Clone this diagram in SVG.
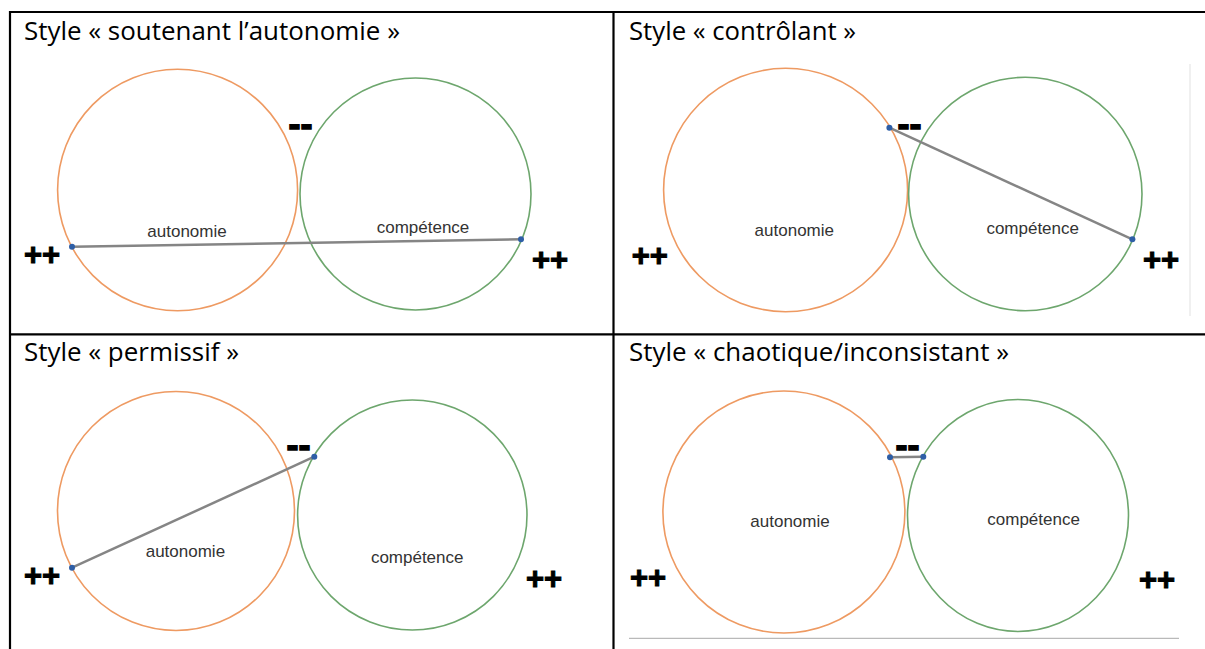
<svg xmlns="http://www.w3.org/2000/svg" width="1205" height="649" viewBox="0 0 1205 649">
  <style>
    .grid { stroke: #000; stroke-width: 2.2; fill: none; }
    .title { font-family: "Open Sans", "Liberation Sans", sans-serif; font-size: 25px; fill: #000; }
    .auto { fill: none; stroke: #EE9A62; stroke-width: 1.6; }
    .comp { fill: none; stroke: #6DA66D; stroke-width: 1.6; }
    .lbl { font-family: "Liberation Sans", Arial, sans-serif; font-size: 17px; fill: #333; text-anchor: middle; }
    .pp { font-family: "Liberation Sans", Arial, sans-serif; font-weight: bold; font-size: 31px; fill: #000; stroke: #000; stroke-width: 1; }
    .mm { font-family: "Liberation Sans", Arial, sans-serif; font-weight: bold; font-size: 36px; fill: #000; stroke: #000; stroke-width: 1.4; }
    .conn { stroke: #858585; stroke-width: 2.5; fill: none; }
    .dot { fill: #2E5EA6; }
    .faint { stroke: #e6e6e6; stroke-width: 1.2; fill: none; }
    .faint2 { stroke: #a8a8a8; stroke-width: 1; fill: none; }
  </style>

  <rect width="1205" height="649" fill="#fff"/>

  <g id="table">
    <line class="grid" x1="9" y1="12" x2="1205" y2="12"/>
    <line class="grid" x1="10" y1="11" x2="10" y2="649"/>
    <line class="grid" x1="613.5" y1="11" x2="613.5" y2="649"/>
    <line class="grid" x1="9" y1="334.3" x2="1205" y2="334.3"/>
    <line class="faint" x1="1190" y1="64" x2="1190" y2="316"/>
    <line class="faint2" x1="629" y1="638.3" x2="1179" y2="638.3"/>
  </g>

  <g id="titles">
    <text class="title" x="24" y="39.5" textLength="376" lengthAdjust="spacingAndGlyphs">Style « soutenant l’autonomie »</text>
    <text class="title" x="629" y="39.5" textLength="227" lengthAdjust="spacingAndGlyphs">Style « contrôlant »</text>
    <text class="title" x="24" y="360.5" textLength="215" lengthAdjust="spacingAndGlyphs">Style « permissif »</text>
    <text class="title" x="629" y="360.5" textLength="380" lengthAdjust="spacingAndGlyphs">Style « chaotique/inconsistant »</text>
  </g>

  <!-- Panel 1 -->
  <g id="p1-autonomie">
    <ellipse class="auto" cx="177.6" cy="190" rx="120" ry="120.7"/>
    <text class="lbl" x="187" y="236.5">autonomie</text>
  </g>
  <g id="p1-competence">
    <ellipse class="comp" cx="415.5" cy="194" rx="115.5" ry="116"/>
    <text class="lbl" x="423" y="233">compétence</text>
  </g>
  <g id="p1-marks">
    <text class="mm" x="288.6" y="136">--</text>
    <text class="pp" x="24" y="265">++</text>
    <text class="pp" x="532" y="270">++</text>
  </g>

  <!-- Panel 2 -->
  <g id="p2-autonomie">
    <ellipse class="auto" cx="785.6" cy="190" rx="122" ry="121.7"/>
    <text class="lbl" x="794.3" y="236">autonomie</text>
  </g>
  <g id="p2-competence">
    <ellipse class="comp" cx="1025.3" cy="194" rx="116.7" ry="116.7"/>
    <text class="lbl" x="1032.7" y="234">compétence</text>
  </g>
  <g id="p2-marks">
    <text class="mm" x="897.6" y="136">--</text>
    <text class="pp" x="631.7" y="265.5">++</text>
    <text class="pp" x="1143" y="270">++</text>
  </g>

  <!-- Panel 3 -->
  <g id="p3-autonomie">
    <ellipse class="auto" cx="176" cy="511" rx="118.5" ry="119.5"/>
    <text class="lbl" x="185.4" y="556.7">autonomie</text>
  </g>
  <g id="p3-competence">
    <ellipse class="comp" cx="412.3" cy="515" rx="114.7" ry="115"/>
    <text class="lbl" x="417.2" y="563.3">compétence</text>
  </g>
  <g id="p3-marks">
    <text class="mm" x="286.6" y="457">--</text>
    <text class="pp" x="24" y="585.5">++</text>
    <text class="pp" x="526" y="588.5">++</text>
  </g>

  <!-- Panel 4 -->
  <g id="p4-autonomie">
    <ellipse class="auto" cx="783.9" cy="512" rx="121" ry="121"/>
    <text class="lbl" x="790" y="526.7">autonomie</text>
  </g>
  <g id="p4-competence">
    <ellipse class="comp" cx="1018" cy="515.5" rx="110.5" ry="116"/>
    <text class="lbl" x="1033.6" y="525">compétence</text>
  </g>
  <g id="p4-marks">
    <text class="mm" x="895.6" y="457">--</text>
    <text class="pp" x="630" y="588">++</text>
    <text class="pp" x="1139" y="590">++</text>
  </g>

  <g id="connectors">
    <line class="conn" x1="72" y1="246.7" x2="521" y2="239.3"/>
    <circle class="dot" cx="72" cy="246.7" r="3"/>
    <circle class="dot" cx="521" cy="239.3" r="3"/>

    <line class="conn" x1="889.4" y1="127.7" x2="1132.4" y2="239.3"/>
    <circle class="dot" cx="889.4" cy="127.7" r="3"/>
    <circle class="dot" cx="1132.4" cy="239.3" r="3"/>

    <line class="conn" x1="72" y1="567.7" x2="314.3" y2="456.7"/>
    <circle class="dot" cx="72" cy="567.7" r="3"/>
    <circle class="dot" cx="314.3" cy="456.7" r="3"/>

    <line class="conn" x1="890" y1="457.3" x2="923.3" y2="456.7"/>
    <circle class="dot" cx="890" cy="457.3" r="3"/>
    <circle class="dot" cx="923.3" cy="456.7" r="3"/>
  </g>
</svg>
